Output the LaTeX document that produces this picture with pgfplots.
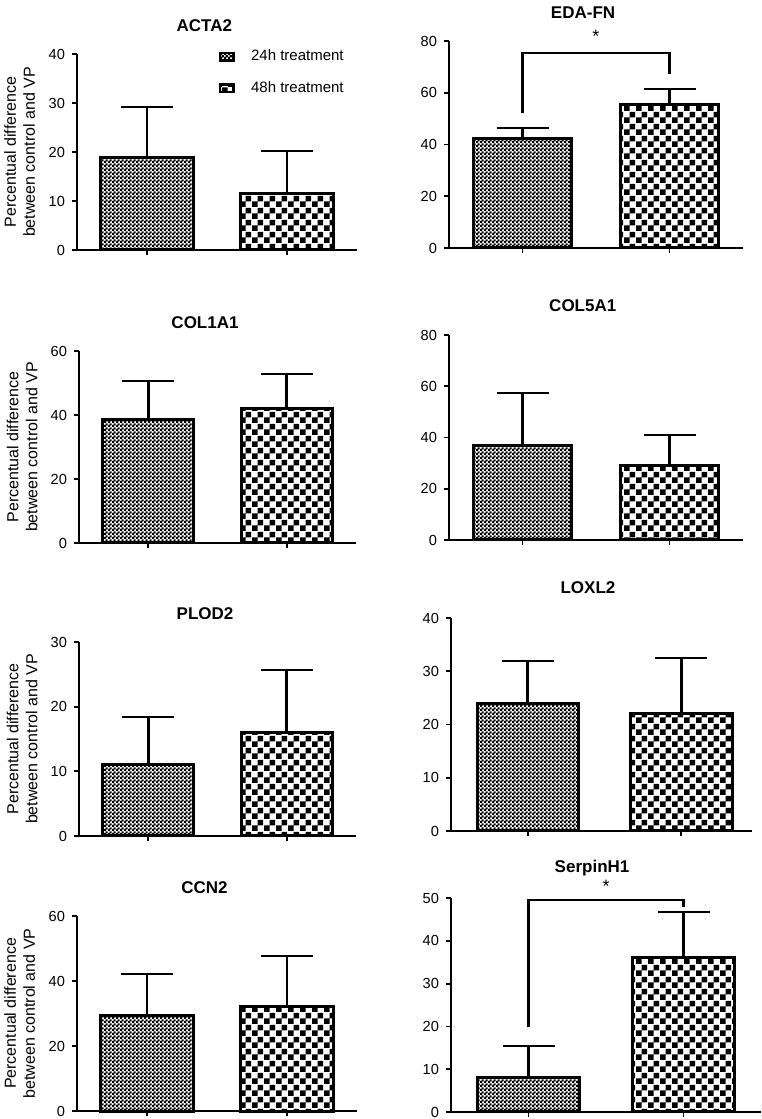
\documentclass[border=0pt]{standalone}
\usepackage{fontspec}
\setmainfont{Liberation Sans}
\usepackage{pgfplots}
\pgfplotsset{compat=1.18}
\usetikzlibrary{patterns}

\pgfdeclarepatternformonly{finecheck}{\pgfpointorigin}{\pgfqpoint{2pt}{2pt}}{\pgfqpoint{2pt}{2pt}}{%
 \pgfpathrectangle{\pgfpointorigin}{\pgfqpoint{1.25pt}{1.25pt}}%
 \pgfpathrectangle{\pgfqpoint{1pt}{1pt}}{\pgfqpoint{1.25pt}{1.25pt}}%
 \pgfusepath{fill}}
\pgfdeclarepatternformonly{coarsecheck}{\pgfpointorigin}{\pgfqpoint{6pt}{6pt}}{\pgfqpoint{6pt}{6pt}}{%
 \pgfpathrectangle{\pgfpointorigin}{\pgfqpoint{3pt}{3pt}}%
 \pgfpathrectangle{\pgfqpoint{3pt}{3pt}}{\pgfqpoint{3pt}{3pt}}%
 \pgfusepath{fill}}

\pgfplotsset{
 panel/.style={
  scale only axis, clip=false,
  xmin=0, xmax=4, ymin=0,
  axis x line=bottom, axis y line=left,
  axis line style={-, line width=0.9pt},
  every outer x axis line/.append style={-},
  every outer y axis line/.append style={-},
  xtick={1,3}, xticklabels={},
  tick align=outside, major tick length=2.5pt,
  tick style={line width=0.9pt, black},
  ticklabel style={font=\fontsize{7.3}{8}\selectfont},
  /pgf/number format/assume math mode=true,
  title style={font=\bfseries\fontsize{8.5}{10}\selectfont, at={(0.455,1.085)}, anchor=center},
  anchor=south west,
 },
 errb/.style={error bars/.cd, y dir=plus, y explicit,
  error bar style={line width=1.3pt, black, solid},
  error mark options={rotate=90, line width=1.3pt, black, mark size=13pt}},
 bar24/.style={ybar, bar shift=0pt, bar width=1.32, draw=black, line width=1.5pt, pattern=finecheck, errb},
 bar48/.style={ybar, bar shift=0pt, bar width=1.32, draw=black, line width=1.5pt, pattern=coarsecheck, errb},
 ylab/.style={ylabel={Percentual difference\\between control and VP},
  ylabel style={align=center, font=\fontsize{8}{9.5}\selectfont, at={(axis description cs:-0.205,0.5)}, anchor=center}},
 bracket/.style={black, line width=1.3pt, mark=none, forget plot},
}

\begin{document}
\begin{tikzpicture}
\useasboundingbox (0,0) rectangle (380.5pt,559.5pt);

% ACTA2
\begin{axis}[panel, ylab, at={(38.5pt,434.5pt)}, width=140pt, height=98pt,
  ymax=40, ytick={0,10,20,30,40}, title={ACTA2},
  legend style={draw=none, fill=none, at={(0.504,1.045)}, anchor=north west,
   font=\fontsize{7.5}{9}\selectfont, row sep=5pt, column sep=6pt, cells={anchor=west}, inner sep=0pt},
  legend image code/.code={\draw[#1, line width=1.4pt] (0.3pt,-1.8pt) rectangle (7.2pt,1.8pt);}]
\addplot[bar24] coordinates {(1,18.8) +- (0,10.4)};
\addplot[bar48] coordinates {(3,11.5) +- (0,8.7)};
\legend{24h treatment, 48h treatment}
\end{axis}

% EDA-FN
\begin{axis}[panel, at={(224.5pt,435.5pt)}, width=147pt, height=103.5pt,
  ymax=80, ytick={0,20,40,60,80}, title={EDA-FN}, title style={at={(0.456,1.078)}}]
\addplot[bar24] coordinates {(1,42.3) +- (0,4.1)};
\addplot[bar48] coordinates {(3,55.4) +- (0,6.0)};
\addplot[bracket] coordinates {(1,52.2) (1,75.4) (3,75.4) (3,67.2)};
\node[font=\fontsize{9}{9}\selectfont, inner sep=0pt, anchor=base] at (axis cs:2,79.3) {*};
\end{axis}

% COL1A1
\begin{axis}[panel, ylab, at={(39.5pt,288pt)}, width=138.5pt, height=96pt,
  ymax=60, ytick={0,20,40,60}, title={COL1A1}]
\addplot[bar24] coordinates {(1,38.6) +- (0,12.0)};
\addplot[bar48] coordinates {(3,42.0) +- (0,10.8)};
\end{axis}

% COL5A1
\begin{axis}[panel, at={(224.5pt,289.5pt)}, width=147pt, height=102.5pt,
  ymax=80, ytick={0,20,40,60,80}, title={COL5A1}]
\addplot[bar24] coordinates {(1,36.9) +- (0,20.5)};
\addplot[bar48] coordinates {(3,29.1) +- (0,11.9)};
\end{axis}

% PLOD2
\begin{axis}[panel, ylab, at={(39.5pt,141.5pt)}, width=138.5pt, height=97pt,
  ymax=30, ytick={0,10,20,30}, title={PLOD2}]
\addplot[bar24] coordinates {(1,11.1) +- (0,7.3)};
\addplot[bar48] coordinates {(3,16.0) +- (0,9.7)};
\end{axis}

% LOXL2
\begin{axis}[panel, at={(225.5pt,144pt)}, width=150.5pt, height=106.5pt, xmax=3.92,
  ymax=40, ytick={0,10,20,30,40}, title={LOXL2}]
\addplot[bar24] coordinates {(1,24.0) +- (0,7.9)};
\addplot[bar48] coordinates {(3,22.0) +- (0,10.5)};
\end{axis}

% CCN2
\begin{axis}[panel, ylab, at={(38.5pt,4pt)}, width=140pt, height=97.5pt,
  ymax=60, ytick={0,20,40,60}, title={CCN2}]
\addplot[bar24] coordinates {(1,29.3) +- (0,12.9)};
\addplot[bar48] coordinates {(3,32.1) +- (0,15.6)};
\end{axis}

% SerpinH1
\begin{axis}[panel, at={(225.5pt,3.5pt)}, width=155pt, height=107pt,
  ymax=50, ytick={0,10,20,30,40,50}, title={SerpinH1}]
\addplot[bar24] coordinates {(1,8.0) +- (0,7.4)};
\addplot[bar48] coordinates {(3,36.2) +- (0,10.5)};
\addplot[bracket] coordinates {(1,19.9) (1,49.5) (3,49.5) (3,47.9)};
\node[font=\fontsize{9}{9}\selectfont, inner sep=0pt, anchor=base] at (axis cs:2,51.3) {*};
\end{axis}
\end{tikzpicture}
\end{document}
